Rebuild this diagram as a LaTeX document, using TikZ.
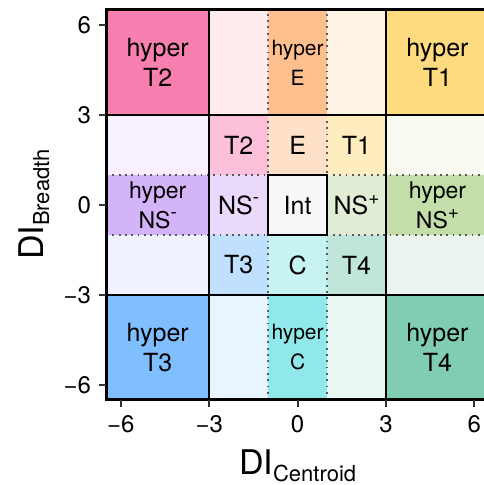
\documentclass[tikz,border=0pt]{standalone}
\usepackage{fontspec}
\setmainfont{TeX Gyre Heros}

% region colours
\definecolor{hT2}{HTML}{F880B0}
\definecolor{hT1}{HTML}{FFDB80}
\definecolor{hT3}{HTML}{80BFFF}
\definecolor{hT4}{HTML}{80CCB5}
\definecolor{hE}{HTML}{FFC090}
\definecolor{hC}{HTML}{90E8EA}
\definecolor{hNSm}{HTML}{D4B4F8}
\definecolor{hNSp}{HTML}{C3DEA8}
\definecolor{cT2}{HTML}{FCC0DA}
\definecolor{cE}{HTML}{FFE0C9}
\definecolor{cT1}{HTML}{FFEDC0}
\definecolor{cNSm}{HTML}{E9DAFB}
\definecolor{cInt}{HTML}{F7F7F7}
\definecolor{cNSp}{HTML}{E2EDD6}
\definecolor{cT3}{HTML}{C0E0FF}
\definecolor{cC}{HTML}{C8F3F3}
\definecolor{cT4}{HTML}{C0E5DA}
\definecolor{lTopL}{HTML}{FFEBEE}
\definecolor{lTopR}{HTML}{FFF3E6}
\definecolor{lLeftU}{HTML}{F9F1FF}
\definecolor{lLeftD}{HTML}{EEF3FF}
\definecolor{lRightU}{HTML}{F9FAF1}
\definecolor{lRightD}{HTML}{EBF4EF}
\definecolor{lBotL}{HTML}{E8F5FF}
\definecolor{lBotR}{HTML}{E8F6F4}
\definecolor{tickgray}{HTML}{333333}
\definecolor{dotgray}{HTML}{5A5A5A}

% raised sign after NS
\newcommand{\nssign}[1]{\raisebox{0.42em}{\fontsize{19}{19}\selectfont #1}}

\begin{document}
\begin{tikzpicture}[x=1pt,y=1pt,
  lab/.style={align=center, inner sep=0pt, text=black},
  bigtxt/.style={lab, font=\fontsize{25}{30}\selectfont},
  midtxt/.style={lab, font=\fontsize{23}{30}\selectfont},
  smalltxt/.style={lab, font=\fontsize{21}{30}\selectfont},
  ticktxt/.style={inner sep=0pt, font=\fontsize{24}{24}\selectfont},
  axistxt/.style={inner sep=0pt, font=\fontsize{34}{34}\selectfont},
  frameline/.style={line width=3pt},
  divider/.style={line width=2.2pt},
  dotline/.style={line width=1.8pt, draw=dotgray, dash pattern=on 1.8pt off 4.5pt},
  tickline/.style={line width=2.2pt, draw=tickgray},
]
\useasboundingbox (0,0) rectangle (484,485);

\begin{scope}[shift={(297.6pt,280pt)}, x=29.45pt, y=30pt]
  % outer hyper regions
  \fill[hT2] (-6.5,3) rectangle (-3,6.5);
  \fill[lTopL] (-3,3) rectangle (-1,6.5);
  \fill[hE] (-1,3) rectangle (1,6.5);
  \fill[lTopR] (1,3) rectangle (3,6.5);
  \fill[hT1] (3,3) rectangle (6.5,6.5);

  \fill[lLeftU] (-6.5,1) rectangle (-3,3);
  \fill[hNSm] (-6.5,-1) rectangle (-3,1);
  \fill[lLeftD] (-6.5,-3) rectangle (-3,-1);
  \fill[lRightU] (3,1) rectangle (6.5,3);
  \fill[hNSp] (3,-1) rectangle (6.5,1);
  \fill[lRightD] (3,-3) rectangle (6.5,-1);

  \fill[hT3] (-6.5,-6.5) rectangle (-3,-3);
  \fill[lBotL] (-3,-6.5) rectangle (-1,-3);
  \fill[hC] (-1,-6.5) rectangle (1,-3);
  \fill[lBotR] (1,-6.5) rectangle (3,-3);
  \fill[hT4] (3,-6.5) rectangle (6.5,-3);

  % inner cells
  \fill[cT2] (-3,1) rectangle (-1,3);
  \fill[cE] (-1,1) rectangle (1,3);
  \fill[cT1] (1,1) rectangle (3,3);
  \fill[cNSm] (-3,-1) rectangle (-1,1);
  \fill[cInt] (-1,-1) rectangle (1,1);
  \fill[cNSp] (1,-1) rectangle (3,1);
  \fill[cT3] (-3,-3) rectangle (-1,-1);
  \fill[cC] (-1,-3) rectangle (1,-1);
  \fill[cT4] (1,-3) rectangle (3,-1);

  % dotted boundaries of the central band
  \draw[dotline] (-1,-6.5) -- (-1,6.5);
  \draw[dotline] (1,-6.5) -- (1,6.5);
  \draw[dotline] (-6.5,-1) -- (6.5,-1);
  \draw[dotline] (-6.5,1) -- (6.5,1);

  % solid boundaries at |DI| = 3
  \draw[divider] (-3,-6.5) -- (-3,6.5);
  \draw[divider] (3,-6.5) -- (3,6.5);
  \draw[divider] (-6.5,-3) -- (6.5,-3);
  \draw[divider] (-6.5,3) -- (6.5,3);

  % intermediate box
  \draw[line width=2.5pt] (-1,-1) rectangle (1,1);

  % axes frame
  \draw[frameline] (-6.5,-6.5) rectangle (6.5,6.5);

  % region labels
  \node[bigtxt] (lhT2) at (-4.75,4.75) {hyper\\T2};
  \node[smalltxt] (lhE) at (0,4.75) {hyper\\E};
  \node[bigtxt] (lhT1) at (4.75,4.75) {hyper\\T1};
  \node[bigtxt] (lT2) at (-2,2) {T2};
  \node[bigtxt] (lE) at (0,2) {E};
  \node[bigtxt] (lT1) at (2,2) {T1};
  \node[midtxt] (lhNSm) at (-4.75,0) {hyper\\NS\nssign{-}};
  \node[bigtxt] (lNSm) at (-2,0) {NS\nssign{-}};
  \node[bigtxt] (lInt) at (0,0) {Int};
  \node[bigtxt] (lNSp) at (2,0) {NS\nssign{+}};
  \node[midtxt] (lhNSp) at (4.75,0) {hyper\\NS\nssign{+}};
  \node[bigtxt] (lT3) at (-2,-2) {T3};
  \node[bigtxt] (lC) at (0,-2) {C};
  \node[bigtxt] (lT4) at (2,-2) {T4};
  \node[bigtxt] (lhT3) at (-4.75,-4.75) {hyper\\T3};
  \node[smalltxt] (lhC) at (0,-4.75) {hyper\\C};
  \node[bigtxt] (lhT4) at (4.75,-4.75) {hyper\\T4};

  % ticks and tick labels
  \foreach \v/\t [count=\i] in {-6/−6,-3/−3,0/0,3/3,6/6} {
    \coordinate (yt\i) at (-6.5,\v);
    \draw[tickline] (yt\i) -- ++(-7pt,0);
    \node[ticktxt, anchor=east] (ylab\i) at ([xshift=-15pt]yt\i) {\t};
    \coordinate (xt\i) at (\v,-6.5);
    \draw[tickline] (xt\i) -- ++(0,-7pt);
    \node[ticktxt, anchor=north] (xlab\i) at ([yshift=-15pt]xt\i) {\t};
  }
\end{scope}

% axis titles
\node[axistxt, anchor=base] (xtitle) at (297.6,10)
  {DI\raisebox{-6pt}{\fontsize{22}{22}\selectfont Centroid}};
\node[axistxt, anchor=base, rotate=90] (ytitle) at (43,280.5)
  {DI\raisebox{-6pt}{\fontsize{22}{22}\selectfont Breadth}};
\end{tikzpicture}
\end{document}
